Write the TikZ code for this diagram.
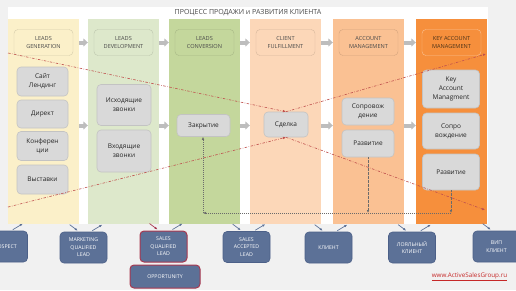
\documentclass[tikz,border=0pt]{standalone}
\usepackage{fontspec}
\setmainfont{Open Sans}
\usepackage{tikz}
\usetikzlibrary{arrows.meta,positioning}
\definecolor{SalesBack}{HTML}{F1F1F1}
\definecolor{SalesYellow}{HTML}{FBF0C9}
\definecolor{SalesLime}{HTML}{DDE8CB}
\definecolor{SalesGreen}{HTML}{C4D79C}
\definecolor{SalesPeach}{HTML}{FCD7B8}
\definecolor{SalesApricot}{HTML}{FAC193}
\definecolor{SalesOrange}{HTML}{F68F3C}
\definecolor{SalesItem}{HTML}{D9D9D9}
\definecolor{SalesItemLine}{HTML}{C3C3C3}
\definecolor{SalesBlue}{HTML}{5C7197}
\definecolor{SalesBlueLine}{HTML}{4C6088}
\definecolor{SalesWine}{HTML}{A8384F}
\definecolor{SalesRed}{HTML}{C0504D}
\definecolor{SalesLoop}{HTML}{6B6B6B}
\definecolor{SalesText}{HTML}{4A4A4A}
\definecolor{SalesBrown}{HTML}{4D3319}
\definecolor{SalesArrow}{HTML}{BDBDBD}
\definecolor{SalesLink}{HTML}{C62828}
\tikzset{
  >=Latex,
  colbox/.style={minimum width=71pt,minimum height=205pt,inner sep=0pt},
  headbox/.style={draw=#1!85!black,fill=#1,rounded corners=4pt,minimum width=59pt,
    minimum height=26pt,align=center,inner sep=1pt,text=SalesText,
    font=\fontsize{5.6}{8.5}\selectfont},
  itembox/.style={draw=SalesItemLine,fill=SalesItem,line width=0.6pt,rounded corners=4pt,
    align=center,inner sep=1pt,text=black!85,font=\fontsize{6.5}{9}\selectfont},
  stagebox/.style={draw=SalesBlueLine,fill=SalesBlue,rounded corners=4pt,line width=0.6pt,
    minimum width=47pt,minimum height=31pt,align=center,inner sep=1pt,text=white,
    font=\fontsize{5.2}{7.4}\selectfont},
  hotbox/.style={stagebox,draw=SalesWine,line width=1pt},
  gaparrow/.style={-{Triangle[length=4.5pt,width=8pt]},line width=4pt,draw=SalesArrow},
  stagearrow/.style={-{Latex[length=3pt,width=2.4pt]},line width=0.7pt,draw=SalesBlue},
  dealline/.style={-{Latex[length=3pt,width=2.6pt]},line width=0.6pt,draw=SalesRed,
    dash pattern=on 2.5pt off 1.5pt on 0.6pt off 1.5pt},
  loopline/.style={-{Latex[length=3pt,width=2.6pt]},line width=0.6pt,draw=SalesLoop,
    dash pattern=on 1.2pt off 1.2pt on 0.4pt off 1.2pt},
  note/.style={inner sep=0pt,text=SalesText,font=\fontsize{7}{8}\selectfont}
}

\begin{document}
\begin{tikzpicture}[x=1pt,y=-1pt]
  \useasboundingbox (0,0) rectangle (516,290);
  \fill[SalesBack] (0,0) rectangle (516,290);
  \fill[white] (8,7) rectangle (488,224);
  \node[note] (title) at (248,13) {ПРОЦЕСС ПРОДАЖИ и РАЗВИТИЯ КЛИЕНТА};

  % stage columns
  \node[colbox,fill=SalesYellow] (col1) at (43.5,121.5) {};
  \node[colbox,fill=SalesLime] (col2) at (123.5,121.5) {};
  \node[colbox,fill=SalesGreen] (col3) at (204.5,121.5) {};
  \node[colbox,fill=SalesPeach] (col4) at (285.5,121.5) {};
  \node[colbox,fill=SalesApricot] (col5) at (368.5,121.5) {};
  \node[colbox,fill=SalesOrange] (col6) at (451.5,121.5) {};

  \node[headbox=SalesYellow] (hdr1) at (43.5,42.5) {LEADS\\GENERATION};
  \node[headbox=SalesLime] (hdr2) at (123.5,42.5) {LEADS\\DEVELOPMENT};
  \node[headbox=SalesGreen] (hdr3) at (204.5,42.5) {LEADS\\CONVERSION};
  \node[headbox=SalesPeach] (hdr4) at (285.5,42.5) {CLIENT\\FULFILLMENT};
  \node[headbox=SalesApricot] (hdr5) at (368.5,42.5) {ACCOUNT\\MANAGEMENT};
  \node[headbox=SalesOrange,draw=SalesApricot,text=SalesBrown] (hdr6) at (451.5,42.5) {KEY ACCOUNT\\MANAGEMENT};

  \draw[gaparrow] (col1.east |- hdr1) -- (col2.west |- hdr1);
  \draw[gaparrow] (col2.east |- hdr1) -- (col3.west |- hdr1);
  \draw[gaparrow] (col3.east |- hdr1) -- (col4.west |- hdr1);
  \draw[gaparrow] (col4.east |- hdr1) -- (col5.west |- hdr1);
  \draw[gaparrow] (col5.east |- hdr1) -- (col6.west |- hdr1);

  % activities
  \node[itembox,minimum width=51pt,minimum height=29pt] (site) at (42.5,81.5) {Сайт\\Лендинг};
  \node[itembox,minimum width=51pt,minimum height=28pt] (direct) at (42.5,114) {Директ};
  \node[itembox,minimum width=51pt,minimum height=29pt] (conf) at (42.5,146) {Конферен\\ции};
  \node[itembox,minimum width=51pt,minimum height=29pt] (expo) at (42.5,179.5) {Выставки};
  \node[itembox,minimum width=54pt,minimum height=41pt] (outcall) at (124,105) {Исходящие\\звонки};
  \node[itembox,minimum width=54pt,minimum height=42pt] (incall) at (124,151) {Входящие\\звонки};
  \node[itembox,minimum width=53pt,minimum height=22pt] (closing) at (203.5,125.5) {Закрытие};
  \node[itembox,minimum width=44pt,minimum height=25pt] (deal) at (286,124.5) {Сделка};
  \node[itembox,minimum width=52pt,minimum height=27pt] (support) at (368,111.5) {Сопровож\\дение};
  \node[itembox,minimum width=52pt,minimum height=27pt] (growth) at (368,143.5) {Развитие};
  \node[itembox,minimum width=57pt,minimum height=38pt] (kam) at (451,89) {Key\\Account\\Managment};
  \node[itembox,minimum width=57pt,minimum height=36pt] (kamsupport) at (451,131) {Сопро\\вождение};
  \node[itembox,minimum width=57pt,minimum height=36pt] (kamgrowth) at (451,172) {Развитие};

  \draw[gaparrow] (col1.east |- closing) -- (col2.west |- closing);
  \draw[gaparrow] (col2.east |- closing) -- (col3.west |- closing);
  \draw[gaparrow] (col3.east |- closing) -- (col4.west |- closing);
  \draw[gaparrow] (col4.east |- closing) -- (col5.west |- closing);
  \draw[gaparrow] (col5.east |- closing) -- (col6.west |- closing);

  % deal funnel
  \coordinate (intop) at (8,53);
  \coordinate (inbottom) at (8,207);
  \coordinate (outtop) at (486,54);
  \coordinate (outbottom) at (485,210);
  \draw[dealline] (intop) -- (deal.north);
  \draw[dealline] (deal.north) -- (outtop);
  \draw[dealline] (inbottom) -- (deal.south);
  \draw[dealline] (deal.south) -- (outbottom);

  % return loop
  \coordinate (loopturn) at (203,213);
  \draw[loopline] (growth.south) -- (growth.south |- loopturn);
  \draw[loopline] (kamgrowth.south) -- (kamgrowth.south |- loopturn);
  \draw[loopline] (kamgrowth.south |- loopturn) -- (loopturn);
  \draw[loopline] (loopturn) -- (closing.south -| loopturn);

  % client stages
  \node[stagebox] (prospect) at (4,246.5) {PROSPECT};
  \node[stagebox] (mql) at (83.5,247.5) {MARKETING\\QUALIFIED\\LEAD};
  \node[hotbox] (sql) at (163.5,246.5) {SALES\\QUALIFIED\\LEAD};
  \node[hotbox,minimum width=70pt,minimum height=23pt] (opportunity) at (165,276.5) {OPPORTUNITY};
  \node[stagebox] (sal) at (246.5,247) {SALES\\ACCEPTED\\LEAD};
  \node[stagebox] (client) at (328.5,247.5) {КЛИЕНТ};
  \node[stagebox] (loyal) at (412,247.5) {ЛОЯЛЬНЫЙ\\КЛИЕНТ};
  \node[stagebox] (vip) at (496.5,246.5) {ВИП\\КЛИЕНТ};

  \draw[stagearrow] ([shift={(-15,-1)}]prospect.north east) -- ([shift={(-5,-7)}]prospect.north east);
  \draw[stagearrow] ([shift={(10,-7)}]mql.north west) -- ([shift={(18,-1)}]mql.north west);
  \draw[stagearrow] ([shift={(-15,-1)}]mql.north east) -- ([shift={(-5,-7)}]mql.north east);
  \draw[stagearrow,draw=SalesWine] ([shift={(10,-7)}]sql.north west) -- ([shift={(18,-1)}]sql.north west);
  \draw[stagearrow] ([shift={(-15,-1)}]sql.north east) -- ([shift={(-5,-7)}]sql.north east);
  \draw[stagearrow] ([shift={(10,-7)}]sal.north west) -- ([shift={(18,-1)}]sal.north west);
  \draw[stagearrow] ([shift={(-15,-1)}]sal.north east) -- ([shift={(-5,-7)}]sal.north east);
  \draw[stagearrow] ([shift={(10,-7)}]client.north west) -- ([shift={(18,-1)}]client.north west);
  \draw[stagearrow] ([shift={(-15,-1)}]client.north east) -- ([shift={(-5,-7)}]client.north east);
  \draw[stagearrow] ([shift={(10,-7)}]loyal.north west) -- ([shift={(18,-1)}]loyal.north west);
  \draw[stagearrow] ([shift={(-15,-1)}]loyal.north east) -- ([shift={(-5,-7)}]loyal.north east);
  \draw[stagearrow] ([shift={(10,-7)}]vip.north west) -- ([shift={(18,-1)}]vip.north west);

  \node[note,text=SalesLink,font=\fontsize{6.3}{7}\selectfont] (site link) at (469.5,277) {\underline{www.ActiveSalesGroup.ru}};
\end{tikzpicture}
\end{document}
